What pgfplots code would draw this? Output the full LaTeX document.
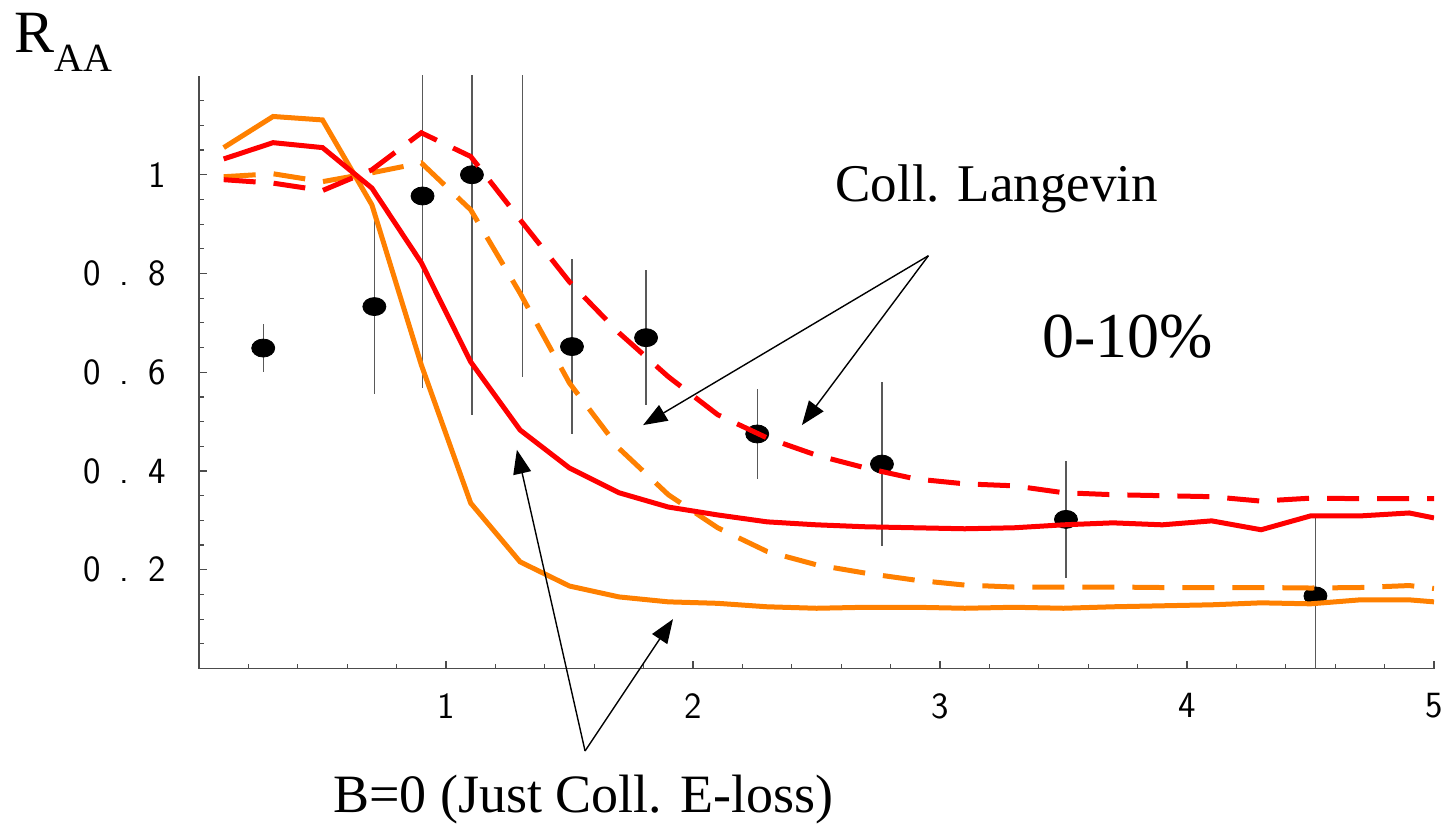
\documentclass[border=0pt]{standalone}
\usepackage{fontspec}
\setmainfont{Liberation Serif}
\setsansfont{Latin Modern Sans}
\usepackage{pgfplots}
\pgfplotsset{compat=1.18}
\usetikzlibrary{arrows.meta}
\definecolor{myred}{RGB}{255,0,0}
\definecolor{myorange}{RGB}{255,128,0}
\newcommand{\cc}[1]{\makebox[8.15pt]{#1}}
\newcommand{\tfont}{\sffamily\fontsize{18.5pt}{20pt}\selectfont}

\pgfplotstableread{
x y
0.1 1.055
0.3 1.118
0.5 1.111
0.7 0.939
0.9 0.615
1.1 0.335
1.3 0.216
1.5 0.167
1.7 0.145
1.9 0.135
2.1 0.132
2.3 0.125
2.5 0.122
2.7 0.124
2.9 0.124
3.1 0.122
3.3 0.124
3.5 0.122
3.7 0.125
3.9 0.127
4.1 0.129
4.3 0.133
4.5 0.131
4.7 0.139
4.9 0.139
5.0 0.135
}\orangesolid

\pgfplotstableread{
x y
0.1 0.996
0.3 1.002
0.5 0.986
0.7 1.004
0.9 1.024
1.1 0.929
1.3 0.760
1.5 0.578
1.7 0.446
1.9 0.352
2.1 0.285
2.3 0.237
2.5 0.210
2.7 0.193
2.9 0.179
3.1 0.169
3.3 0.165
3.5 0.165
3.7 0.165
3.9 0.164
4.1 0.164
4.3 0.164
4.5 0.163
4.7 0.164
4.9 0.168
5.0 0.162
}\orangedashed

\pgfplotstableread{
x y
0.1 1.032
0.3 1.065
0.5 1.055
0.7 0.973
0.9 0.822
1.1 0.621
1.3 0.483
1.5 0.406
1.7 0.356
1.9 0.327
2.1 0.311
2.3 0.297
2.5 0.291
2.7 0.287
2.9 0.285
3.1 0.283
3.3 0.285
3.5 0.291
3.7 0.295
3.9 0.291
4.1 0.299
4.3 0.281
4.5 0.309
4.7 0.309
4.9 0.315
5.0 0.305
}\redsolid

\pgfplotstableread{
x y
0.1 0.990
0.3 0.983
0.5 0.968
0.7 1.010
0.9 1.085
1.1 1.037
1.3 0.909
1.5 0.783
1.7 0.680
1.9 0.591
2.1 0.514
2.3 0.467
2.5 0.432
2.7 0.406
2.9 0.384
3.1 0.374
3.3 0.370
3.5 0.356
3.7 0.352
3.9 0.350
4.1 0.348
4.3 0.339
4.5 0.345
4.7 0.344
4.9 0.344
5.0 0.344
}\reddashed

\pgfplotstableread{
x y e
0.26 0.649 0.049
0.71 0.733 0.178
0.905 0.957 0.389
1.105 1.000 0.486
1.31 1.25 0.66
1.51 0.652 0.178
1.81 0.670 0.137
2.26 0.475 0.091
2.765 0.414 0.166
3.51 0.302 0.118
4.52 0.147 0.158
}\data

\begin{document}
\begin{tikzpicture}
\begin{axis}[name=ax, scale only axis, width=617.5pt, height=296.25pt,
  xmin=0, xmax=5, ymin=0, ymax=1.2,
  axis x line*=bottom, axis y line*=left,
  axis line style={draw=black!70, line width=0.7pt},
  xtick={1,2,3,4,5}, xticklabels={},
  minor xtick={0.2,0.4,0.6,0.8,1.2,1.4,1.6,1.8,2.2,2.4,2.6,2.8,3.2,3.4,3.6,3.8,4.2,4.4,4.6,4.8},
  ytick={0.2,0.4,0.6,0.8,1}, yticklabels={},
  minor ytick={0.05,0.1,0.15,0.25,0.3,0.35,0.45,0.5,0.55,0.65,0.7,0.75,0.85,0.9,0.95,1.05,1.1,1.15},
  tick align=inside,
  major tick length=4pt, minor tick length=2.5pt,
  tick style={black!70, line width=0.6pt},
  clip mode=individual,
  clip marker paths=true,
]
\addplot[only marks, mark=*, mark size=4.5pt, mark options={xscale=1.28, fill=black, draw=black},
  error bars/.cd, y dir=both, y explicit, error mark=none,
  error bar style={black!65, line width=0.7pt}]
  table[x=x, y=y, y error=e] {\data};

\addplot[myorange, line width=2.5pt, no marks] table[x=x,y=y] {\orangesolid};
\addplot[myorange, line width=2.5pt, no marks, dash pattern=on 16pt off 9pt] table[x=x,y=y] {\orangedashed};
\addplot[myred, line width=2.5pt, no marks] table[x=x,y=y] {\redsolid};
\addplot[myred, line width=2.5pt, no marks, dash pattern=on 16pt off 9pt] table[x=x,y=y] {\reddashed};

% tick labels
\node[anchor=north, inner sep=0, yshift=-12.25pt] at (axis cs:1,0) {\tfont 1};
\node[anchor=north, inner sep=0, yshift=-12.25pt] at (axis cs:2,0) {\tfont 2};
\node[anchor=north, inner sep=0, yshift=-12.25pt] at (axis cs:3,0) {\tfont 3};
\node[anchor=north, inner sep=0, yshift=-12.25pt] at (axis cs:4,0) {\tfont 4};
\node[anchor=north, inner sep=0, yshift=-12.25pt] at (axis cs:5,0) {\tfont 5};
\node[anchor=east, inner sep=0, xshift=-16.5pt] at (axis cs:0,0.2) {\tfont\cc{0}\cc{}\cc{.}\cc{}\cc{2}};
\node[anchor=east, inner sep=0, xshift=-16.5pt] at (axis cs:0,0.4) {\tfont\cc{0}\cc{}\cc{.}\cc{}\cc{4}};
\node[anchor=east, inner sep=0, xshift=-16.5pt] at (axis cs:0,0.6) {\tfont\cc{0}\cc{}\cc{.}\cc{}\cc{6}};
\node[anchor=east, inner sep=0, xshift=-16.5pt] at (axis cs:0,0.8) {\tfont\cc{0}\cc{}\cc{.}\cc{}\cc{8}};
\node[anchor=east, inner sep=0, xshift=-16.5pt] at (axis cs:0,1.0) {\tfont\cc{1}};

\node[anchor=base west, inner sep=0] at (axis cs:-0.749,1.247)
  {\fontsize{30}{30}\selectfont R\fontsize{20}{20}\selectfont\raisebox{-9.5pt}{AA}};
\node[anchor=base west, inner sep=0, font=\fontsize{26.5}{26.5}\selectfont] at (axis cs:2.575,0.945) {Coll. Langevin};
\node[anchor=base west, inner sep=0, font=\fontsize{32}{32}\selectfont] at (axis cs:3.413,0.629) {0-10\%};
\node[anchor=base west, inner sep=0, font=\fontsize{27}{27}\selectfont] at (axis cs:0.5425,-0.2908) {B=0 (Just Coll. E-loss)};

\draw[line width=0.7pt, -{Triangle[length=12pt,width=9pt]}] (axis cs:2.953,0.836) -- (axis cs:1.798,0.493);
\draw[line width=0.7pt, -{Triangle[length=12pt,width=9pt]}] (axis cs:2.953,0.836) -- (axis cs:2.441,0.493);
\draw[line width=0.7pt, -{Triangle[length=12pt,width=9pt]}] (axis cs:1.563,-0.167) -- (axis cs:1.287,0.443);
\draw[line width=0.7pt, -{Triangle[length=12pt,width=9pt]}] (axis cs:1.563,-0.167) -- (axis cs:1.919,0.100);
\end{axis}
\path ([xshift=-99.5pt,yshift=-75.75pt]ax.south west) rectangle ([xshift=7pt,yshift=38pt]ax.north east);
\end{tikzpicture}
\end{document}
